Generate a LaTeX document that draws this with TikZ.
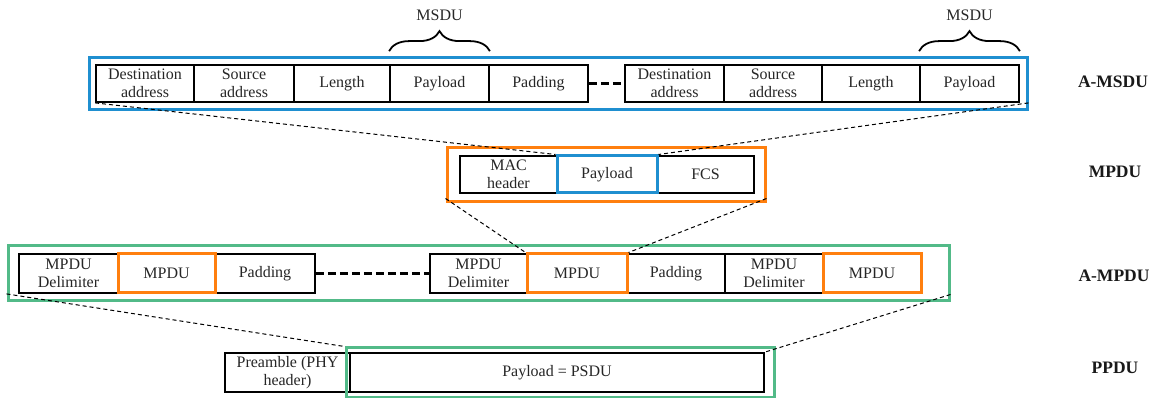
\documentclass[tikz,border=0pt]{standalone}
\usepackage{fontspec}
\setmainfont{Liberation Serif}
\usetikzlibrary{decorations.pathreplacing}
\definecolor{cblue}{HTML}{1F8FD0}
\definecolor{corange}{HTML}{FF7F0E}
\definecolor{cgreen}{HTML}{52BA88}
\begin{document}
\begin{tikzpicture}[x=1pt,y=-1pt,
  cell/.style={draw=black, line width=1.8pt, minimum height=37pt, inner sep=0pt,
    align=center, font=\fontsize{16}{18.5}\selectfont, text=black!85},
  ocell/.style={cell, draw=corange, line width=3pt},
  bcell/.style={cell, draw=cblue, line width=3pt},
  frame/.style={draw=#1, line width=3pt, inner sep=0pt},
  link/.style={draw=black, line width=1pt, dash pattern=on 4pt off 3pt},
  gap/.style={draw=black, line width=3pt, dash pattern=on 8pt off 4pt},
  bracestyle/.style={decorate, decoration={brace, amplitude=20pt}, line width=1.8pt},
  lbl/.style={font=\fontsize{16}{18.5}\selectfont, text=black!85},
  rowlbl/.style={font=\fontsize{17.5}{20}\selectfont\bfseries, text=black!90}]
\useasboundingbox (0,0) rectangle (1163,398);

% ---------- A-MSDU ----------
\node[cell, minimum width=98pt]  (dA1)  at (145,83.5)   {Destination\\address};
\node[cell, minimum width=100pt] (sA1)  at (244,83.5)   {Source\\address};
\node[cell, minimum width=96pt]  (len1) at (342,83.5)   {Length};
\node[cell, minimum width=99pt]  (pay1) at (439.5,83.5) {Payload};
\node[cell, minimum width=99pt]  (pad1) at (538.5,83.5) {Padding};
\node[cell, minimum width=99pt]  (dA2)  at (674.5,83.5) {Destination\\address};
\node[cell, minimum width=98pt]  (sA2)  at (773,83.5)   {Source\\address};
\node[cell, minimum width=98pt]  (len2) at (871,83.5)   {Length};
\node[cell, minimum width=99pt]  (pay2) at (969.5,83.5) {Payload};
\draw[gap] (pad1.east) -- (dA2.west);
\node[frame=cblue, minimum width=938pt, minimum height=52pt] (amsdu) at (558,84) {};
\draw[bracestyle] ([yshift=13pt]pay1.north west) -- ([yshift=13pt]pay1.north east);
\draw[bracestyle] ([yshift=13pt]pay2.north west) -- ([yshift=13pt]pay2.north east);
\node[lbl] (msdu1) at (439.5,15) {MSDU};
\node[lbl] (msdu2) at (969.5,15) {MSDU};
\node[rowlbl] (lAMSDU) at (1113,82) {A-MSDU};

% ---------- MPDU ----------
\node[cell, minimum width=97pt]  (mac)  at (508.5,174.5) {MAC\\header};
\node[cell, minimum width=97pt]  (fcs)  at (705.5,174.5) {FCS};
\node[bcell, minimum width=100pt] (payM) at (607,174.5)  {Payload};
\node[frame=corange, minimum width=318pt, minimum height=54pt] (mpdu) at (606,175) {};
\node[rowlbl] (lMPDU) at (1115,172) {MPDU};

% ---------- A-MPDU ----------
\node[cell, minimum width=99pt, minimum height=39pt]  (del1) at (68.5,273.5) {MPDU\\Delimiter};
\node[cell, minimum width=100pt, minimum height=39pt] (pad2) at (265,273.5)  {Padding};
\node[cell, minimum width=97pt, minimum height=39pt]  (del2) at (478.5,273.5) {MPDU\\Delimiter};
\node[cell, minimum width=98pt, minimum height=39pt]  (pad3) at (676,273.5)  {Padding};
\node[cell, minimum width=98pt, minimum height=39pt]  (del3) at (774,273.5)  {MPDU\\Delimiter};
\node[ocell, minimum width=97pt, minimum height=39pt]  (mp1)  at (166.5,273.5) {MPDU};
\node[ocell, minimum width=100pt, minimum height=39pt] (mp2)  at (577,273.5)  {MPDU};
\node[ocell, minimum width=98pt, minimum height=39pt]  (mp3)  at (872,273.5)  {MPDU};
\draw[gap] (pad2.east) -- (del2.west);
\node[frame=cgreen, minimum width=941pt, minimum height=55pt] (ampdu) at (478.5,273.5) {};
\node[rowlbl] (lAMPDU) at (1114,276) {A-MPDU};

% ---------- PPDU ----------
\node[cell, minimum width=125pt, minimum height=39pt] (pre)  at (287.5,372.5) {Preamble (PHY\\header)};
\node[cell, minimum width=414pt, minimum height=39pt] (psdu) at (557,372.5)   {Payload = PSDU};
\node[frame=cgreen, minimum width=428pt, minimum height=49pt] (ppg) at (560,372.5) {};
\node[rowlbl] (lPPDU) at (1115,368) {PPDU};

% ---------- connectors ----------
\draw[link] (dA1.south west) -- (payM.north west);
\draw[link] (amsdu.east |- pay2.south) -- (payM.north east);
\draw[link] ([yshift=5pt]mpdu.south west) -- (mp2.north west);
\draw[link] ([yshift=5pt]mpdu.south east) -- (mp2.north east);
\draw[link] (ampdu.west |- del1.south) -- (ppg.north west);
\draw[link] (ampdu.east |- mp3.south) -- (psdu.north east);
\end{tikzpicture}
\end{document}
